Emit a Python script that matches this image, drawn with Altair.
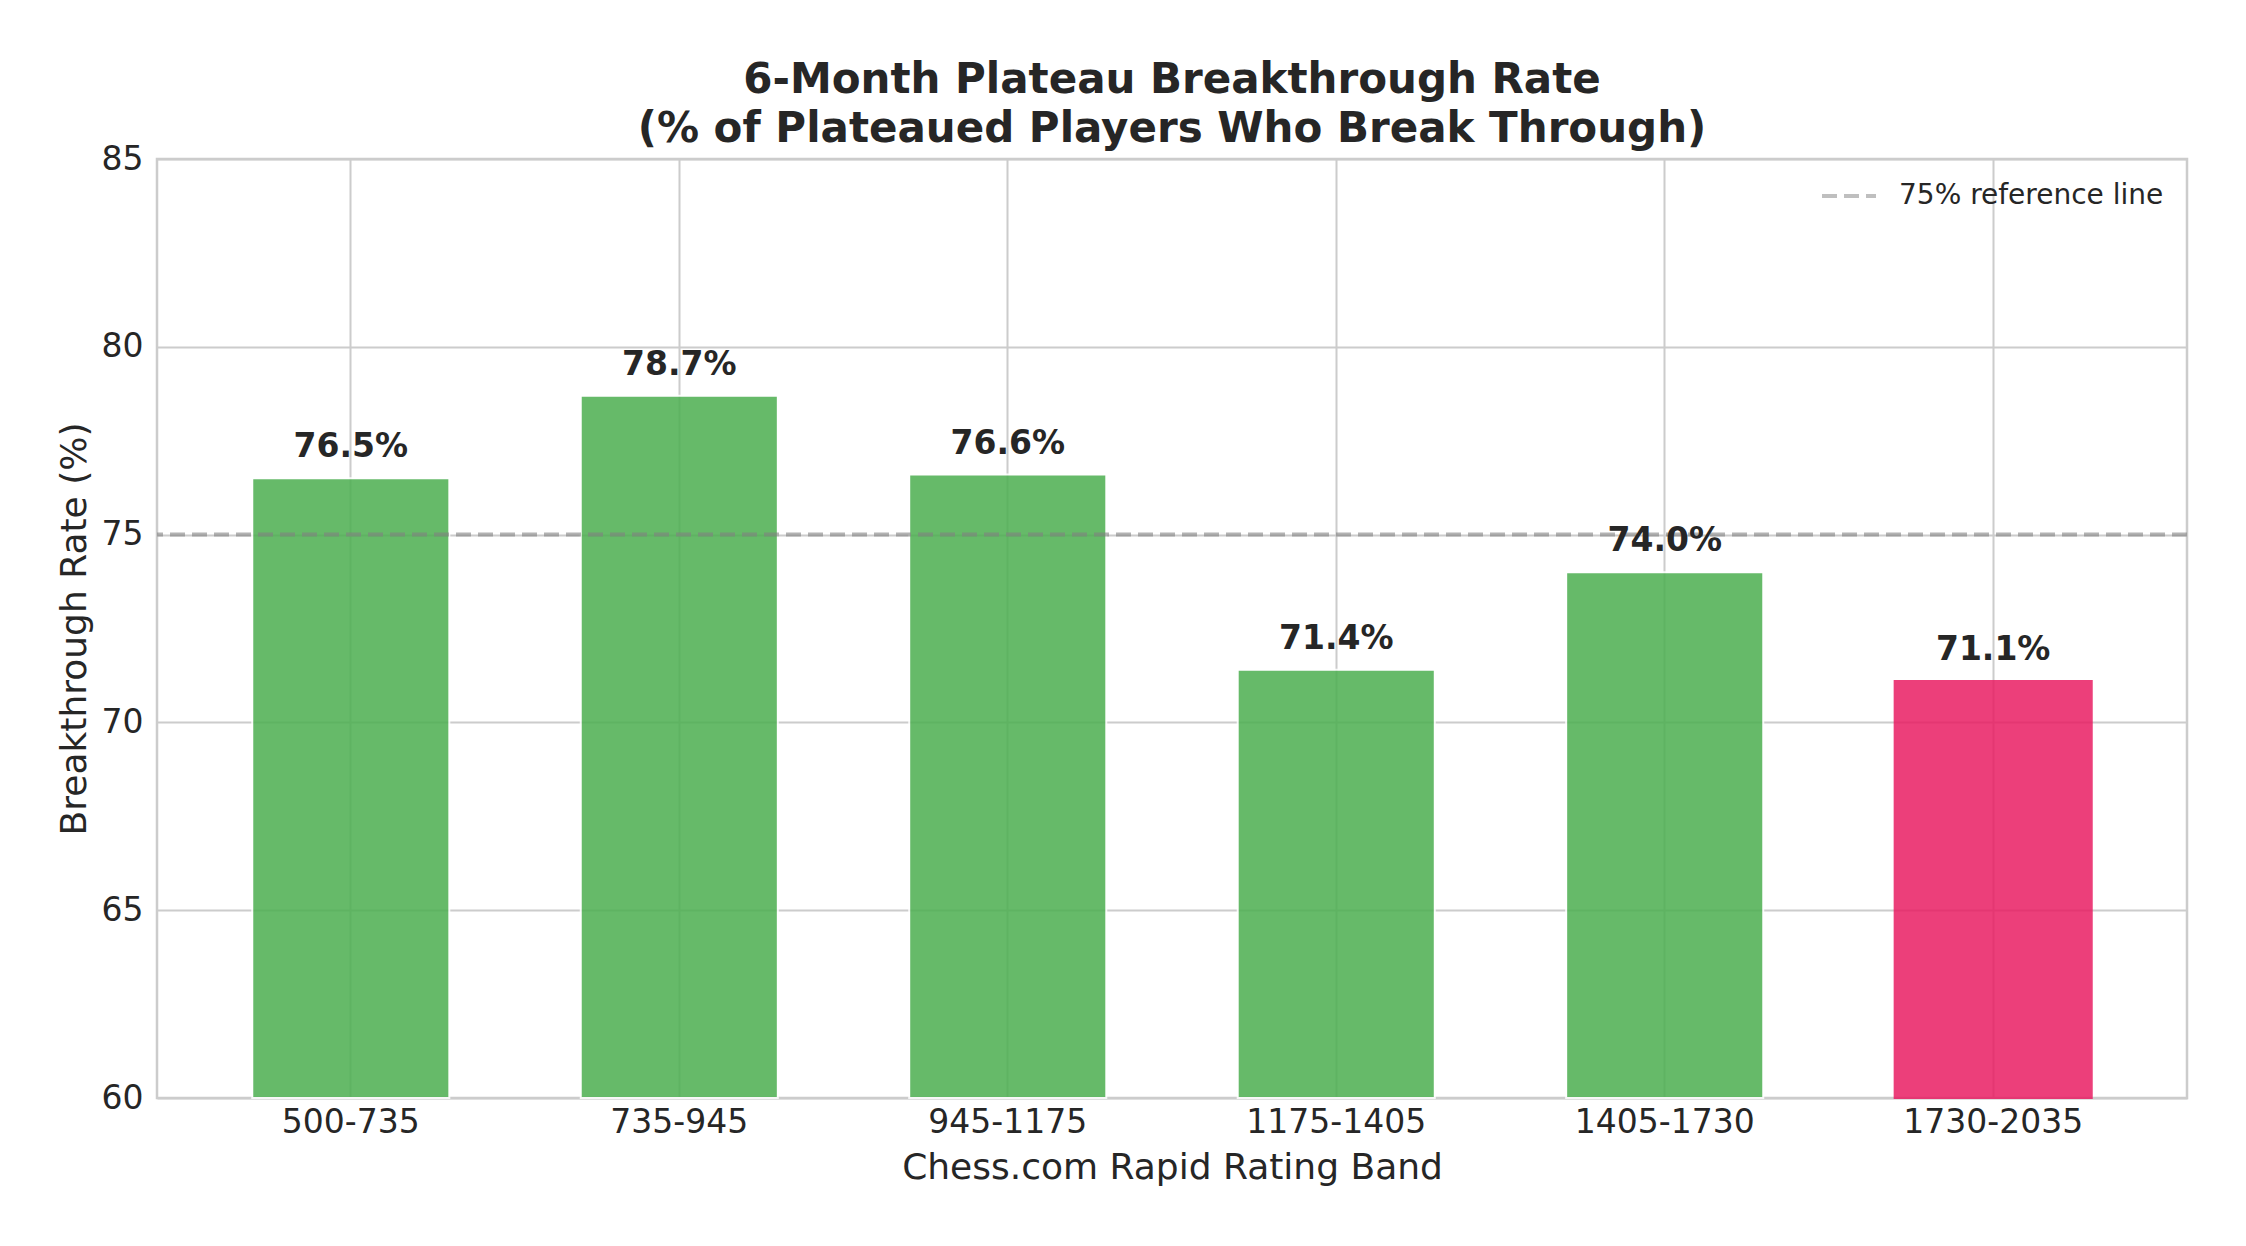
import altair as alt
import pandas as pd

# ---- data ----
bands = ["500-735", "735-945", "945-1175", "1175-1405", "1405-1730", "1730-2035"]
rates = [76.5, 78.7, 76.6, 71.4, 74.0, 71.1]
y_ticks = [60, 65, 70, 75, 80, 85]
ref_value = [75]
ref_label = ["75% reference line"]

# ---- styles ----
bar_colors = ["#4CAF50", "#4CAF50", "#4CAF50", "#4CAF50", "#4CAF50", "#E91E63"]
edge_colors = ["#FFFFFF", "#FFFFFF", "#FFFFFF", "#FFFFFF", "#FFFFFF", "#E91E63"]
FONT = "DejaVu Sans"
TXT = "#262626"
GRID = "#cccccc"

df = pd.DataFrame({"band": bands, "rate": rates})
df["label"] = df["rate"].map(lambda v: f"{v:.1f}%")
ref_df = pd.DataFrame({"y": ref_value, "name": ref_label})

y_scale = alt.Scale(domain=[60, 85], nice=False, zero=False)

x_enc = alt.X(
    "band:N", sort=bands, title="Chess.com Rapid Rating Band",
    scale=alt.Scale(paddingInner=0.4, paddingOuter=0.29),
    axis=alt.Axis(labelAngle=0, grid=True, ticks=False, domain=False,
                  bandPosition=0.5, labelPadding=8, titlePadding=11),
)

bars = alt.Chart(df).mark_bar(opacity=0.85, strokeWidth=2).encode(
    x=x_enc,
    y=alt.Y("rate:Q", scale=y_scale,
            axis=alt.Axis(values=y_ticks, title="Breakthrough Rate (%)", grid=True,
                          ticks=False, domain=False, labelPadding=14, titlePadding=8)),
    y2=alt.Y2(datum=60),
    color=alt.Color("band:N", scale=alt.Scale(domain=bands, range=bar_colors), legend=None),
    stroke=alt.Stroke("band:N", scale=alt.Scale(domain=bands, range=edge_colors), legend=None),
)

labels = alt.Chart(df).mark_text(
    fontSize=33, fontWeight="bold", color=TXT, dy=-21, baseline="alphabetic", font=FONT
).encode(
    x=alt.X("band:N", sort=bands),
    y=alt.Y("rate:Q", scale=y_scale),
    text="label:N",
)

rule = alt.Chart(ref_df).mark_rule(strokeDash=[15, 7], strokeWidth=4, opacity=0.6).encode(
    y=alt.Y("y:Q", scale=y_scale),
    color=alt.Color(
        "name:N", scale=alt.Scale(range=["#808080"]),
        legend=alt.Legend(title=None, orient="none", legendX=1663, legendY=8,
                          symbolType="stroke", symbolSize=2916, symbolStrokeWidth=4,
                          symbolDash=[15, 7], symbolOpacity=0.5, labelFontSize=28,
                          labelFont=FONT, labelColor=TXT, labelOffset=21, labelLimit=0,
                          padding=0),
    ),
)

chart = alt.layer(bars, rule, labels).resolve_scale(
    color="independent", stroke="independent"
).properties(
    width=2030,
    height=939,
    autosize=alt.AutoSizeParams(type="none"),
    padding={"left": 149, "top": 151, "right": 51, "bottom": 140},
    title=alt.Title(
        ["6-Month Plateau Breakthrough Rate", "(% of Plateaued Players Who Break Through)"],
        fontSize=42, fontWeight="bold", color=TXT, lineHeight=49, anchor="middle",
        offset=8, dy=16, font=FONT,
    ),
).configure_view(
    stroke=GRID, strokeWidth=2.5
).configure_axis(
    labelFont=FONT, titleFont=FONT, labelFontSize=33, titleFontSize=36,
    labelColor=TXT, titleColor=TXT, titleFontWeight="normal",
    gridColor=GRID, gridWidth=2,
)

chart.save("out.html", embed_options={"renderer": "svg", "actions": False})
